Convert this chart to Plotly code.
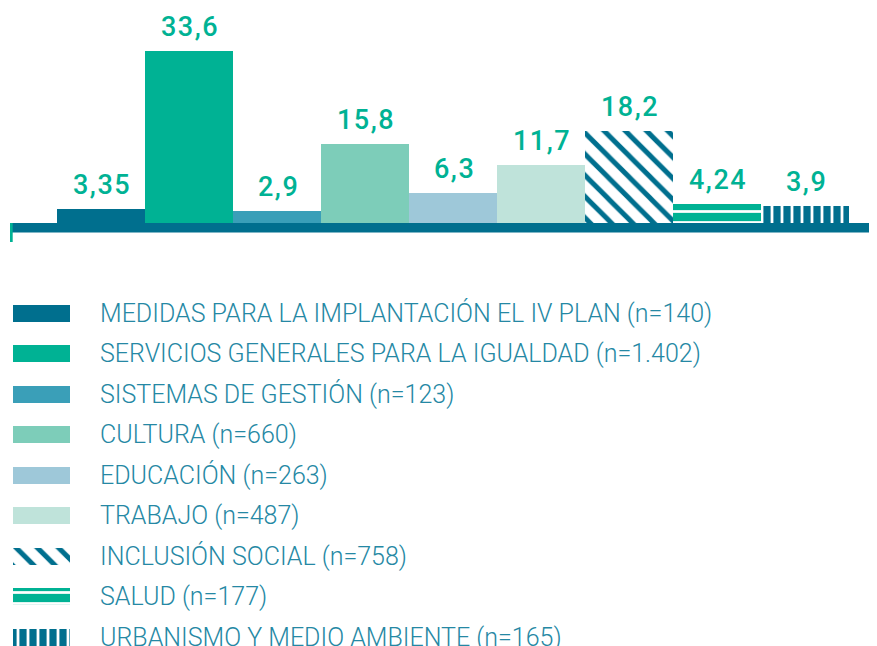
import plotly.graph_objects as go

W, H = 877, 646
OFF = 8  # page body margin offset
FW, FH = W - OFF, H - OFF

categories = [
    "MEDIDAS PARA LA IMPLANTACIÓN EL IV PLAN (n=140)",
    "SERVICIOS GENERALES PARA LA IGUALDAD (n=1.402)",
    "SISTEMAS DE GESTIÓN (n=123)",
    "CULTURA (n=660)",
    "EDUCACIÓN (n=263)",
    "TRABAJO (n=487)",
    "INCLUSIÓN SOCIAL (n=758)",
    "SALUD (n=177)",
    "URBANISMO Y MEDIO AMBIENTE (n=165)",
]
values = [3.35, 33.6, 2.9, 15.8, 6.3, 11.7, 18.2, 4.24, 3.9]
value_labels = ["3,35", "33,6", "2,9", "15,8", "6,3", "11,7", "18,2", "4,24", "3,9"]

TEAL = "#006f8e"
GREEN = "#00b294"
colors = [TEAL, GREEN, "#3a9fb8", "#7dcdb9", "#9ec8d9", "#bfe3da", "#ffffff", GREEN, TEAL]

def pattern(i):
    if i == 6:
        return dict(shape="\\", fgcolor=TEAL, bgcolor="#ffffff", size=15, solidity=0.33, fillmode="replace")
    if i == 7:
        return dict(shape="-", fgcolor="#ffffff", bgcolor=GREEN, size=11, solidity=0.25, fillmode="replace")
    if i == 8:
        return dict(shape="|", fgcolor="#ffffff", bgcolor=TEAL, size=10, solidity=0.28, fillmode="replace")
    return dict(shape="")

def px_x(p):
    return (p - OFF) / FW

def px_y(p):
    return 1 - (p - OFF) / FH

fig = go.Figure()

idx = list(range(len(categories)))

for i in idx:
    fig.add_trace(go.Bar(
        x=[i], y=[values[i]], width=1.0,
        marker=dict(color=colors[i], line=dict(width=0), pattern=pattern(i)),
        xaxis="x", yaxis="y", showlegend=False, hoverinfo="skip",
    ))

for i in idx:
    fig.add_trace(go.Bar(
        x=[1], y=[i], orientation="h", width=17 / 40.5,
        marker=dict(color=colors[i], line=dict(width=0), pattern=pattern(i)),
        xaxis="x2", yaxis="y2", showlegend=False, hoverinfo="skip",
    ))

annotations = []
for i in idx:
    annotations.append(dict(
        x=i, y=values[i], xref="x", yref="y",
        text=f'<span style="letter-spacing:1.5px">{value_labels[i]}</span>',
        showarrow=False, yanchor="middle", yshift=24, xshift=1,
        font=dict(family="Roboto", size=27, color=GREEN, weight=500),
    ))
for i in idx:
    annotations.append(dict(
        x=px_x(98), y=i, xref="paper", yref="y2", text=categories[i],
        showarrow=False, xanchor="left", yanchor="middle",
        font=dict(family="Roboto", size=25, color="#2588a4", weight=300),
    ))

shapes = [
    dict(type="rect", xref="paper", yref="paper", x0=px_x(10), x1=px_x(880),
         y0=px_y(232.5), y1=px_y(223), fillcolor=TEAL, line=dict(width=0), layer="above"),
    dict(type="rect", xref="paper", yref="paper", x0=px_x(10), x1=px_x(12.7),
         y0=px_y(242), y1=px_y(223), fillcolor=GREEN, line=dict(width=0), layer="above"),
]

scale = 5.22
fig.update_layout(
    width=FW, height=FH,
    margin=dict(l=0, r=0, t=0, b=0),
    paper_bgcolor="white", plot_bgcolor="white",
    barmode="overlay", bargap=0,
    xaxis=dict(domain=[px_x(57), px_x(849)], range=[-0.5, 8.5], visible=False, fixedrange=True),
    yaxis=dict(domain=[px_y(226), px_y(OFF)], range=[0, (226 - OFF) / scale], visible=False, fixedrange=True),
    xaxis2=dict(domain=[px_x(13), px_x(70)], range=[0, 1], visible=False, anchor="y2"),
    yaxis2=dict(domain=[0, px_y(290)], range=[(646 - 313) / 40.5, (290 - 313) / 40.5],
                visible=False, anchor="x2"),
    annotations=annotations,
    shapes=shapes,
)

fig.write_html("out.html")
